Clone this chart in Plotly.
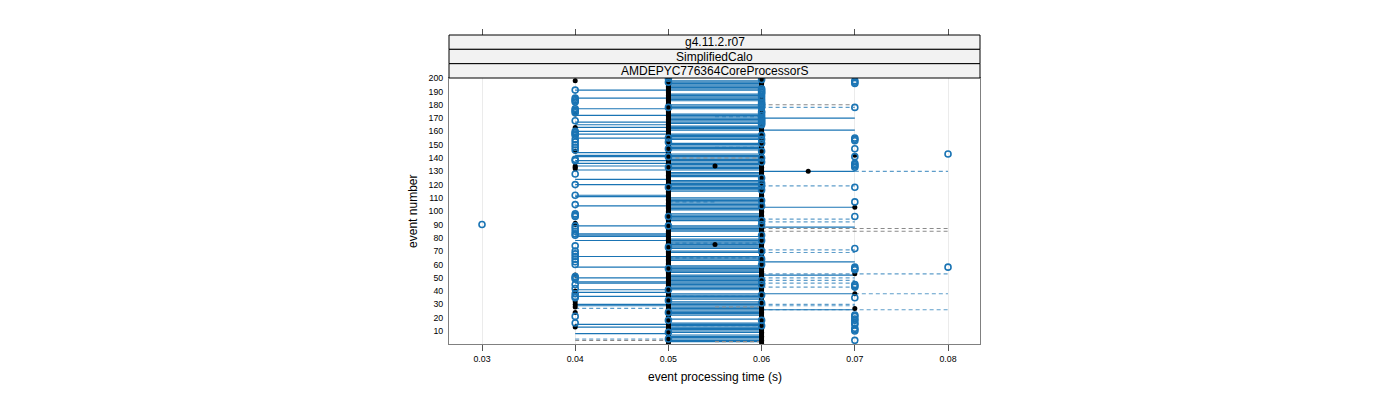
import plotly.graph_objects as go

# ---- data (event number, processing time in s) ----
X_TICKS = [0.03, 0.04, 0.05, 0.06, 0.07, 0.08]
Y_TICKS = [10, 20, 30, 40, 50, 60, 70, 80, 90, 100,
           110, 120, 130, 140, 150, 160, 170, 180, 190, 200]
STRIPS = ["g4.11.2.r07", "SimplifiedCalo", "AMDEPYC776364CoreProcessorS"]
N_EVENTS = 200

# open circles, grouped by the time bin they sit on (event numbers)
open_030 = [90]
open_040 = [191, 185, 184, 183, 182, 177, 176, 175, 174, 168, 160, 159, 158, 157,
            154, 152, 150, 148, 146, 139, 138, 128, 120, 112, 105, 98, 97, 96, 89,
            87, 85, 83, 82, 74, 70, 68, 66, 64, 62, 60, 51, 50, 49, 45, 42, 38, 36,
            35, 21, 16]
open_050 = [200, 197, 178, 155, 152, 147, 141, 133, 118, 96, 89, 73, 57, 41, 33,
            24, 18, 9, 4]
open_060 = [199, 192, 191, 190, 189, 188, 186, 184, 182, 181, 180, 179, 178, 175,
            174, 172, 170, 169, 168, 167, 166, 165, 157, 154, 151, 145, 140, 137,
            125, 121, 119, 116, 108, 104, 93, 90, 82, 78, 70, 64, 60, 48, 45, 37,
            31, 18, 14]
open_070 = [198, 197, 196, 178, 155, 154, 153, 147, 141, 136, 135, 134, 133, 118,
            107, 96, 72, 58, 57, 56, 45, 44, 43, 35, 22, 21, 19, 18, 16, 15, 12,
            11, 10, 3]
open_080 = [143, 58]

# filled dots
dot_040 = [198, 173, 163, 145, 134, 133, 132, 91, 90, 52, 40, 32, 30, 28, 24, 13]
dot_055 = [134, 75]
dot_065 = [130]
dot_070 = [142, 103, 53, 38, 27]
# filled dots at 0.05 and 0.06 sit on every event except these
no_dot_050 = [200, 178, 155, 152, 147, 141, 133, 118, 96, 89, 73, 57, 41, 33, 24,
              18, 9, 4]
no_dot_060 = open_060

# solid segments
solid_040_050 = [191, 185, 177, 172, 167, 165, 163, 160, 158, 155, 144, 142, 141,
                 138, 136, 134, 131, 124, 120, 112, 111, 104, 89, 83, 82, 81, 78,
                 66, 58, 50, 47, 46, 41, 39, 36, 30, 29, 15, 13, 8]
solid_060_070 = [170, 161, 130, 103, 88, 62, 52, 38, 26]
# the 0.05 -> 0.06 band covers every event except these
no_solid_050_060 = [200, 199, 190, 189, 182, 181, 176, 175, 174, 165, 160, 159,
                    153, 152, 145, 144, 130, 125, 124, 114, 113, 112, 111, 100, 99,
                    92, 91, 90, 84, 83, 82, 80, 71, 68, 67, 62, 61, 60, 53, 40, 39,
                    33, 21, 20, 18, 17, 8, 1]

# dashed segments (event, from, to)
dash_blue_event = [171, 148, 107, 76, 65, 36, 14, 27, 4, 178, 119, 94, 92, 71, 69,
                   50, 48, 46, 43, 30, 29, 130, 38, 53, 26]
dash_blue_from = [0.055, 0.055, 0.05, 0.05, 0.05, 0.05, 0.05, 0.04, 0.04, 0.06,
                  0.06, 0.06, 0.06, 0.06, 0.06, 0.06, 0.06, 0.06, 0.06, 0.06, 0.06,
                  0.07, 0.07, 0.06, 0.06]
dash_blue_to = [0.06, 0.06, 0.055, 0.06, 0.06, 0.06, 0.06, 0.05, 0.05, 0.07, 0.07,
                0.07, 0.07, 0.07, 0.07, 0.07, 0.07, 0.07, 0.07, 0.07, 0.07, 0.08,
                0.08, 0.08, 0.08]
dash_grey_event = [180, 87, 85, 140, 28, 2, 3]
dash_grey_from = [0.06, 0.06, 0.06, 0.05, 0.055, 0.055, 0.04]
dash_grey_to = [0.07, 0.08, 0.08, 0.06, 0.06, 0.06, 0.05]

BLUE = "#1a74b4"
BLUE_LIGHT = "rgba(26,116,180,0.7)"
GREY = "#8a8a8a"


def segments(events, starts, ends):
    xs, ys = [], []
    for e, a, b in zip(events, starts, ends):
        xs += [a, b, None]
        ys += [e, e, None]
    return xs, ys


def points(groups):
    xs, ys = [], []
    for t, evs in groups:
        xs += [t] * len(evs)
        ys += list(evs)
    return xs, ys


all_events = list(range(1, N_EVENTS + 1))
band = [e for e in all_events if e not in no_solid_050_060]
dots_050 = [e for e in all_events if e not in no_dot_050]
dots_060 = [e for e in all_events if e not in no_dot_060]

s_ev = solid_040_050 + band + solid_060_070
s_from = [0.04] * len(solid_040_050) + [0.05] * len(band) + [0.06] * len(solid_060_070)
s_to = [0.05] * len(solid_040_050) + [0.06] * len(band) + [0.07] * len(solid_060_070)

fig = go.Figure()

sx, sy = segments(s_ev, s_from, s_to)
fig.add_trace(go.Scatter(x=sx, y=sy, mode="lines",
                         line=dict(color=BLUE, width=1.2), hoverinfo="skip"))

dx, dy = segments(dash_grey_event, dash_grey_from, dash_grey_to)
fig.add_trace(go.Scatter(x=dx, y=dy, mode="lines",
                         line=dict(color=GREY, width=1.1, dash="4px,3px"), hoverinfo="skip"))

dx, dy = segments(dash_blue_event, dash_blue_from, dash_blue_to)
fig.add_trace(go.Scatter(x=dx, y=dy, mode="lines",
                         line=dict(color=BLUE_LIGHT, width=1.2, dash="4px,3px"), hoverinfo="skip"))

bx, by = points([(0.04, dot_040), (0.05, dots_050), (0.055, dot_055),
                 (0.06, dots_060), (0.065, dot_065), (0.07, dot_070)])
fig.add_trace(go.Scatter(x=bx, y=by, mode="markers",
                         marker=dict(color="black", size=5, symbol="circle"), hoverinfo="skip"))

ox, oy = points([(0.03, open_030), (0.04, open_040), (0.05, open_050),
                 (0.06, open_060), (0.07, open_070), (0.08, open_080)])
fig.add_trace(go.Scatter(x=ox, y=oy, mode="markers",
                         marker=dict(color=BLUE, size=6, symbol="circle-open",
                                     line=dict(width=1.6, color=BLUE)), hoverinfo="skip"))

# dummy trace so the top tick axis is drawn
fig.add_trace(go.Scatter(x=[], y=[], xaxis="x2", yaxis="y", showlegend=False))

X_RANGE = [0.02646, 0.08343]
PANEL_TOP = 0.8608  # panel top in paper units, strips sit above it

fig.update_layout(
    width=1400, height=400,
    margin=dict(l=441, r=428, t=27, b=64),
    plot_bgcolor="white", paper_bgcolor="white",
    showlegend=False,
    font=dict(family="Liberation Sans, Arial, sans-serif", color="black"),
    xaxis=dict(range=X_RANGE, tickvals=X_TICKS, tickformat=".2f",
               ticks="outside", ticklen=6, tickcolor="#555",
               tickfont=dict(size=8.8), showline=True, mirror=True,
               linecolor="#808080", linewidth=1,
               showgrid=True, gridcolor="#ebebeb", zeroline=False),
    xaxis2=dict(range=X_RANGE, tickvals=X_TICKS, overlaying="x", anchor="free",
                position=1, side="top", ticks="outside", ticklen=6,
                tickcolor="#555", showticklabels=False, showline=False,
                showgrid=False, zeroline=False),
    yaxis=dict(domain=[0, PANEL_TOP], range=[0.25, 200.1], tickvals=Y_TICKS,
               ticks="", tickfont=dict(size=8.8), ticklabelstandoff=3,
               showline=True, mirror=True, linecolor="#808080", linewidth=1,
               showgrid=False, zeroline=False),
)

# strips
strip_h = (1 - PANEL_TOP) / len(STRIPS)
for i, label in enumerate(STRIPS):
    y1 = 1 - i * strip_h
    y0 = y1 - strip_h
    fig.add_shape(type="rect", xref="paper", yref="paper", x0=0, x1=1, y0=y0, y1=y1,
                  fillcolor="#f2f2f2", line=dict(color="black", width=1), layer="above")
    fig.add_annotation(text=label, xref="paper", yref="paper", x=0.5, y=(y0 + y1) / 2,
                       showarrow=False, font=dict(size=12), yanchor="middle")

# axis titles
fig.add_annotation(text="event processing time (s)", xref="paper", yref="paper",
                   x=0.5, y=-0.107, showarrow=False, font=dict(size=12), yanchor="middle")
fig.add_annotation(text="event number", xref="paper", yref="paper",
                   x=-0.068, y=0.4304, showarrow=False, font=dict(size=12),
                   textangle=-90, xanchor="center", yanchor="middle")

fig.write_html("out.html")
